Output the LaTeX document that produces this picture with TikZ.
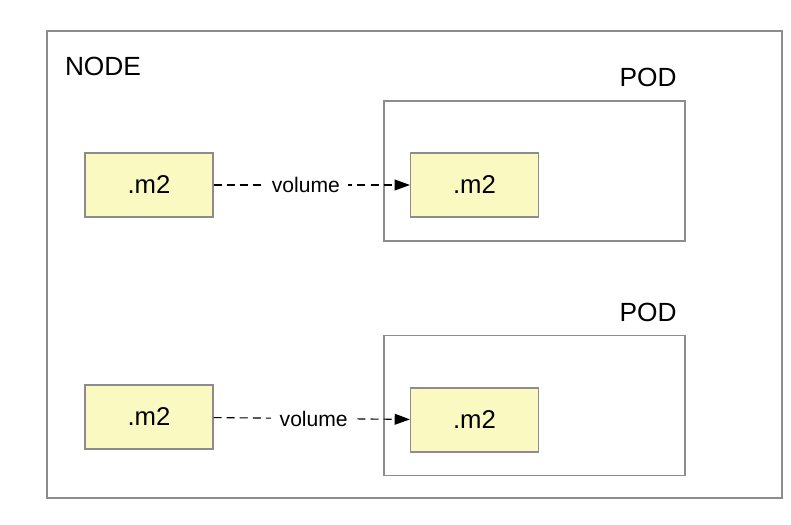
\documentclass[tikz,border=0pt]{standalone}
\usepackage{fontspec}
\setmainfont{Liberation Sans}
\usepackage{tikz}
\usetikzlibrary{arrows.meta,positioning}
\definecolor{volYellow}{HTML}{FBF9C2}
\definecolor{volGray}{HTML}{8C8C8C}

\begin{document}
\begin{tikzpicture}[x=0.025cm,y=-0.025cm,
  podbox/.style={draw=volGray, line width=0.9pt,
                 minimum width=7.525cm, minimum height=3.5cm},
  dirbox/.style={draw=volGray, fill=volYellow, line width=0.8pt,
                 minimum width=3.2cm, minimum height=1.6cm,
                 font=\fontsize{18.3}{21}\selectfont},
  title/.style={font=\fontsize{18.7}{22}\selectfont},
  mount/.style={draw, line width=0.8pt, dash pattern=on 5.7pt off 3.6pt,
                -{Triangle[length=3.8mm,width=2.7mm]}},
  lbl/.style={fill=white, font=\fontsize{15}{17}\selectfont,
              inner xsep=6pt, inner ysep=2pt},
]
\useasboundingbox (0,0) rectangle (791,525);
% host machine
\node[draw=volGray, line width=1pt, minimum width=18.375cm,
      minimum height=11.675cm] (host) at (414.5,264.5) {};
\node[title] (hostlbl) at (103,66) {NODE};

% first pod
\node[podbox] (pod1) at (534.5,171) {};
\node[title] (pod1lbl) at (648,77) {POD};
\node[dirbox] (src1) at (149,185) {.m2};
\node[dirbox] (dst1) at (474.5,185) {.m2};
\draw[mount] (src1) -- node[lbl, pos=0.47] {volume} (dst1);

% second pod
\node[podbox] (pod2) at (534.5,405.5) {};
\node[title] (pod2lbl) at (648,312) {POD};
\node[dirbox] (src2) at (149,417) {.m2};
\node[dirbox] (dst2) at (474.5,420) {.m2};
\draw[mount] (src2) -- node[lbl, pos=0.51] {volume} (dst2);
\end{tikzpicture}
\end{document}
